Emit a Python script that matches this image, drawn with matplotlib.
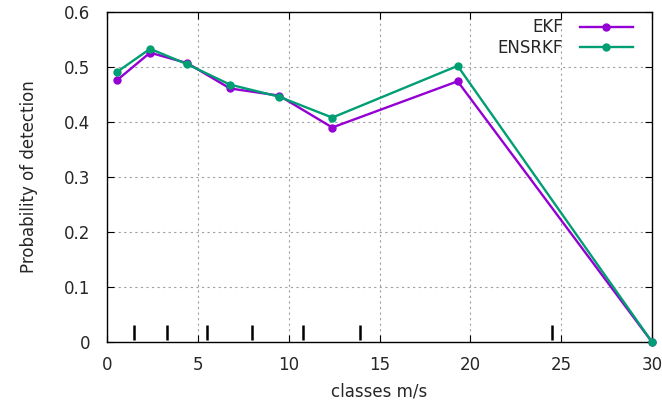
import matplotlib
matplotlib.use("Agg")
import matplotlib.pyplot as plt
import matplotlib.transforms as mtransforms

# Data
speed_classes = [0.55, 2.37, 4.42, 6.77, 9.47, 12.4, 19.3, 30.0]
ekf = [0.476, 0.526, 0.507, 0.461, 0.448, 0.390, 0.474, 0.0]
ensrkf = [0.491, 0.533, 0.505, 0.468, 0.446, 0.408, 0.502, 0.0]
class_bounds = [1.5, 3.3, 5.5, 8.0, 10.8, 13.9, 24.5]
x_ticks = [0, 5, 10, 15, 20, 25, 30]
y_ticks = [0, 0.1, 0.2, 0.3, 0.4, 0.5, 0.6]

plt.rcParams['font.family'] = ['DejaVu Sans']
fig = plt.figure(figsize=(6.62, 4.07), dpi=100)
ax = fig.add_axes([107/662, 65/407, 545/662, 330/407])

ax.plot(speed_classes, ekf, color='#9400D3', lw=1.7, marker='o', ms=5, label='EKF', clip_on=False, zorder=3)
ax.plot(speed_classes, ensrkf, color='#009E73', lw=1.7, marker='o', ms=5, label='ENSRKF', clip_on=False, zorder=3)

trans = mtransforms.blended_transform_factory(ax.transData, ax.transAxes)
ax.vlines(class_bounds, 2.5/330, 17/330, transform=trans, color='black', lw=1.8, zorder=2)

ax.set_xlim(0, 30)
ax.set_ylim(0, 0.6)
ax.set_xticks(x_ticks)
ax.set_xticklabels([str(v) for v in x_ticks])
ax.set_yticks(y_ticks)
ax.set_yticklabels(['0' if v == 0 else f'{v:.1f}' for v in y_ticks])
ax.grid(True, color='#a0a0a0', linestyle=(0, (2, 3)), lw=0.8)
ax.tick_params(direction='in', top=True, right=True, length=5, width=0.8, labelsize=12, colors='black')
ax.tick_params(axis='x', pad=10)
ax.tick_params(axis='y', pad=12)
for lbl in ax.get_xticklabels() + ax.get_yticklabels():
    lbl.set_color('#262626')
for s in ax.spines.values():
    s.set_linewidth(1.0)
    s.set_color('black')

ax.set_xlabel('classes m/s', fontsize=12, labelpad=6, color='#262626')
ax.set_ylabel('Probability of detection', fontsize=12, labelpad=19, color='#262626')

leg = ax.legend(loc='upper right', frameon=False, markerfirst=False, fontsize=12,
                handlelength=3.2, handletextpad=1.0, labelspacing=0.15,
                bbox_to_anchor=(526/545, 323.5/330), borderaxespad=0, borderpad=0)
for t in leg.get_texts():
    t.set_color('#262626')

fig.savefig('out.png', dpi=100)
